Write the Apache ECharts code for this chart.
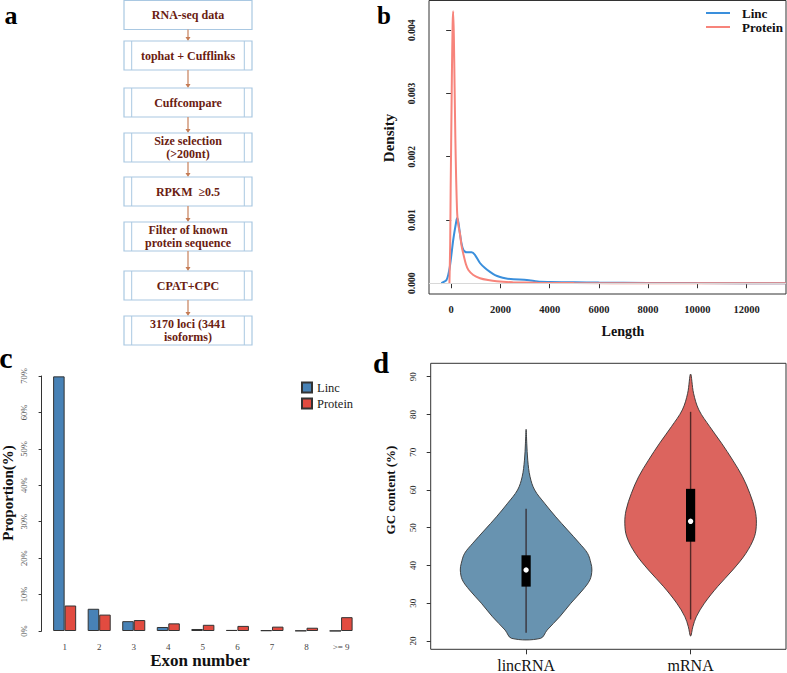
<!DOCTYPE html>
<html><head><meta charset="utf-8">
<script src="https://cdn.jsdelivr.net/npm/echarts@6/dist/echarts.min.js"></script>
<style>html,body{margin:0;padding:0;background:#fff}#chart{width:787px;height:673px}</style>
</head><body><div id="chart"></div>
<script>
// ---------------- data ----------------
// panel a: pipeline steps
const flowSteps = ['RNA-seq data', 'tophat + Cufflinks', 'Cuffcompare', 'Size selection\n(>200nt)',
  'RPKM  \u22650.5', 'Filter of known\nprotein sequence', 'CPAT+CPC', '3170 loci (3441\nisoforms)'];

// panel b: length density curves
const densityNames = ['Linc', 'Protein'];
const lincLength = [-400, -190, -54, 82, 218, 245, 300, 355, 420, 490, 560, 626, 830, 966, 1170, 1374, 1578, 1782, 1986, 2190, 2530, 3074, 3618, 4000, 5000, 6000, 8000, 10000, 13600];
const lincDensity = [0, 0.00005, 0.00026, 0.00068, 0.001, 0.00103, 0.00095, 0.00079, 0.00063, 0.00053, 0.0005, 0.00049, 0.00049, 0.00045, 0.00032, 0.00024, 0.00018, 0.00013, 0.0001, 0.00008, 0.000063, 0.000053, 0.000022, 0.00002, 0.000015, 0.00001, 0.000004, 0.000002, 0];
const proteinLength = [-70, -40, -20, 0, 30, 60, 82, 110, 140, 170, 200, 245, 300, 355, 420, 490, 600, 700, 900, 1170, 1500, 1850, 2500, 3500, 5000, 8000, 13600];
const proteinDensity = [0, 0.0006, 0.0015, 0.0022, 0.0033, 0.0041, 0.0043, 0.0039, 0.0031, 0.0023, 0.0017, 0.0011, 0.0009, 0.00079, 0.0006, 0.00047, 0.0003, 0.00021, 0.00013, 0.00008, 0.00005, 0.00003, 0.000015, 0.000007, 0.000003, 0.000001, 0];
const lengthTicks = [0, 2000, 4000, 6000, 8000, 10000, 12000];
const densityTicks = [0, 0.001, 0.002, 0.003, 0.004];

// panel c: exon number proportions (%)
const exonCategories = ['1', '2', '3', '4', '5', '6', '7', '8', '>= 9'];
const exonLinc = [69.9, 6.1, 2.7, 1.1, 0.55, 0.3, 0.2, 0.1, 0.05];
const exonProtein = [7.0, 4.5, 3.0, 2.1, 1.7, 1.4, 1.2, 0.9, 3.8];
const exonLegend = ['Linc', 'Protein'];
const proportionTicks = [0, 10, 20, 30, 40, 50, 60, 70];

// panel d: GC content violins
const violinCategories = ['lincRNA', 'mRNA'];
const lincGC = [20.7, 22.9, 26.4, 30.0, 33.5, 36.2, 38.8, 40.6, 43.2, 45.9, 49.4, 52.9, 56.5, 60.0, 63.5, 67.9, 72.4, 76.06];
const lincGCDensity = [0.22, 0.32, 0.51, 0.68, 0.86, 0.97, 1.0, 0.985, 0.935, 0.81, 0.63, 0.45, 0.28, 0.13, 0.06, 0.025, 0.01, 0];
const mrnaGC = [21.3, 23.8, 26.4, 30.0, 34.4, 38.8, 43.2, 47.6, 51.2, 54.7, 59.1, 63.5, 67.9, 72.4, 76.8, 81.2, 85.6, 90.7];
const mrnaGCDensity = [0, 0.035, 0.086, 0.21, 0.41, 0.64, 0.84, 0.97, 1.0, 0.98, 0.9, 0.79, 0.64, 0.47, 0.29, 0.126, 0.045, 0];
const lincBoxStats = [22.2, 34.4, 38.8, 42.7, 55.0];   // whisker low, q1, median, q3, whisker high
const mrnaBoxStats = [25.7, 46.3, 51.7, 60.3, 80.7];
const gcTicks = [20, 30, 40, 50, 60, 70, 80, 90];

// ---------------- layout / style ----------------
const SERIF = '"Liberation Serif","Times New Roman",serif';
const BLUE_LINE = '#3a8fdc', RED_LINE = '#f7847b';
const chart = echarts.init(document.getElementById('chart'), null, { renderer: 'svg' });

const graphics = [];
// flowchart (panel a)
const flowLeft = 124, flowWidth = 128, flowH = 29, flowInset = 7.7;
const flowTops = [0.5, 41, 88, 133, 177, 222, 271, 316];
const flowCx = flowLeft + flowWidth / 2;
flowSteps.forEach((label, i) => {
  const top = flowTops[i];
  graphics.push({ type: 'rect', shape: { x: flowLeft, y: top, width: flowWidth, height: flowH },
    style: { fill: '#fff', stroke: '#a9c8e2', lineWidth: 1.2 } });
  if (i > 0) {
    [flowLeft + flowInset, flowLeft + flowWidth - flowInset].forEach(x => {
      graphics.push({ type: 'line', shape: { x1: x, y1: top, x2: x, y2: top + flowH },
        style: { stroke: '#a9c8e2', lineWidth: 1 } });
    });
  }
  graphics.push({ type: 'text', x: flowCx, y: top + flowH / 2,
    style: { text: label, align: 'center', verticalAlign: 'middle', fill: '#6a2010',
      font: 'bold 12px ' + SERIF, lineHeight: 12.5 } });
  if (i < flowSteps.length - 1) {
    const y1 = top + flowH, y2 = flowTops[i + 1];
    graphics.push({ type: 'line', shape: { x1: flowCx, y1: y1, x2: flowCx, y2: y2 - 3 },
      style: { stroke: '#cf9272', lineWidth: 1.4 } });
    graphics.push({ type: 'polygon', shape: { points: [[flowCx - 2.5, y2 - 4], [flowCx + 2.5, y2 - 4], [flowCx, y2]] },
      style: { fill: '#c57c55' } });
  }
});

function addText(text, x, y, font, rot, fill, align) {
  graphics.push({ type: 'text', x: x, y: y, rotation: rot || 0,
    style: { text: text, align: align || 'center', verticalAlign: 'middle', font: font, fill: fill || '#000' } });
}
// panel letters
addText('a', 11, 15, 'bold 26px ' + SERIF);
addText('b', 384, 15, 'bold 25px ' + SERIF);
addText('c', 6, 357, 'bold 30px ' + SERIF);
addText('d', 381, 363, 'bold 29px ' + SERIF);
// axis titles
addText('Density', 389, 138, 'bold 15px ' + SERIF, Math.PI / 2, '#111');
addText('Length', 623, 331, 'bold 14px ' + SERIF, 0, '#111');
addText('Proportion(%)', 8, 493, 'bold 15px ' + SERIF, Math.PI / 2, '#111');
addText('Exon number', 200, 660, 'bold 17px ' + SERIF, 0, '#111');
addText('GC content (%)', 390, 490, 'bold 13px ' + SERIF, Math.PI / 2, '#111');
// panel b legend (line keys)
[BLUE_LINE, RED_LINE].forEach((col, i) => {
  const y = 13 + i * 14;
  graphics.push({ type: 'line', shape: { x1: 706, y1: y, x2: 730, y2: y }, style: { stroke: col, lineWidth: 2 } });
  addText(densityNames[i], 742, y, 'bold 13px ' + SERIF, 0, '#111', 'left');
});

function renderViolin(params, api) {
  const i = params.dataIndex;
  const gc = i === 0 ? lincGC : mrnaGC;
  const dens = i === 0 ? lincGCDensity : mrnaGCDensity;
  const box = i === 0 ? lincBoxStats : mrnaBoxStats;
  const fill = i === 0 ? '#6893b0' : '#dc645e';
  const cx = i + 1, maxHalf = 0.4;
  const right = gc.map((g, k) => api.coord([cx + dens[k] * maxHalf, g]));
  const left = [];
  gc.forEach((g, k) => { if (dens[k] > 0) left.push(api.coord([cx - dens[k] * maxHalf, g])); });
  left.reverse();
  const pts = right.concat(left);
  const lo = api.coord([cx, box[0]]), q1 = api.coord([cx, box[1]]), med = api.coord([cx, box[2]]),
        q3 = api.coord([cx, box[3]]), hi = api.coord([cx, box[4]]);
  const bw = api.size([0.056, 0])[0];
  return { type: 'group', children: [
    { type: 'polygon', shape: { points: pts, smooth: 0.35 }, style: { fill: fill, stroke: '#333', lineWidth: 0.9 } },
    { type: 'line', shape: { x1: lo[0], y1: lo[1], x2: hi[0], y2: hi[1] }, style: { stroke: 'rgba(40,20,20,0.75)', lineWidth: 1.4 } },
    { type: 'rect', shape: { x: q3[0] - bw / 2, y: q3[1], width: bw, height: q1[1] - q3[1] }, style: { fill: '#000' } },
    { type: 'circle', shape: { cx: med[0], cy: med[1], r: 2.7 }, style: { fill: '#fff' } }
  ] };
}

// barplot positions (R barplot beside=TRUE: each group = 1 space + 2 bars)
const groupUnits = 3;
const exonPos = exonCategories.map((c, i) => groupUnits * i + 2);
const exonBarWidth = 11.52;

const axisTxt = { fontFamily: SERIF };
const option = {
  animation: false,
  backgroundColor: '#fff',
  graphic: graphics,
  grid: [
    { left: 429, top: 0.5, right: 1, bottom: 379, show: true, borderColor: '#333', borderWidth: 1, backgroundColor: 'transparent', outerBoundsMode: 'none' },
    { left: 41.6, top: 376, width: 311, height: 255, outerBoundsMode: 'none' },
    { left: 430.7, top: 363.3, right: 1, bottom: 23.7, show: true, borderColor: '#333', borderWidth: 1, backgroundColor: 'transparent', outerBoundsMode: 'none' }
  ],
  legend: [
    { data: ['exonLinc', 'exonProtein'], orient: 'vertical', left: 296, top: 376, icon: 'rect', itemWidth: 10, itemHeight: 10, itemGap: 3,
      formatter: n => exonLegend[n === 'exonLinc' ? 0 : 1],
      textStyle: Object.assign({ fontSize: 12.5, color: '#222' }, axisTxt) }
  ],
  xAxis: [
    { gridIndex: 0, type: 'value', min: -900, max: 13600, axisLine: { show: false }, splitLine: { show: false },
      axisTick: { show: true, length: 5, customValues: lengthTicks, lineStyle: { color: '#333' } },
      axisLabel: Object.assign({ customValues: lengthTicks, formatter: v => String(v), margin: 10, fontSize: 10.5, fontWeight: 'bold', color: '#222' }, axisTxt) },
    { gridIndex: 1, type: 'value', min: 0, max: groupUnits * exonCategories.length, axisLine: { show: false }, splitLine: { show: false },
      axisTick: { show: false },
      axisLabel: Object.assign({ customValues: exonPos, formatter: v => exonCategories[Math.round((v - 2) / groupUnits)], margin: 11, fontSize: 9, color: '#444' }, axisTxt) },
    { gridIndex: 2, type: 'value', min: 0.42, max: 2.58, axisLine: { show: false }, splitLine: { show: false },
      axisTick: { show: true, length: 5, customValues: [1, 2], lineStyle: { color: '#333' } },
      axisLabel: Object.assign({ customValues: [1, 2], formatter: v => violinCategories[Math.round(v) - 1], margin: 8, fontSize: 16, color: '#111' }, axisTxt) }
  ],
  yAxis: [
    { gridIndex: 0, type: 'value', min: -0.00017, max: 0.00447, axisLine: { show: false }, splitLine: { show: false },
      axisTick: { show: true, length: 5, customValues: densityTicks, lineStyle: { color: '#333' } },
      axisLabel: Object.assign({ customValues: densityTicks, rotate: 90, formatter: v => v.toFixed(3), margin: 12, fontSize: 9.5, fontWeight: 'bold', color: '#222' }, axisTxt) },
    { gridIndex: 1, type: 'value', min: 0, max: 70, splitLine: { show: false },
      axisLine: { show: true, lineStyle: { color: '#333' } },
      axisTick: { show: true, length: 3, customValues: proportionTicks, lineStyle: { color: '#333' } },
      axisLabel: Object.assign({ customValues: proportionTicks, rotate: 90, formatter: v => v + '%', margin: 13, fontSize: 8.5, color: '#555' }, axisTxt) },
    { gridIndex: 2, type: 'value', min: 17.8, max: 93.55, axisLine: { show: false }, splitLine: { show: false },
      axisTick: { show: true, length: 4, customValues: gcTicks, lineStyle: { color: '#333' } },
      axisLabel: Object.assign({ customValues: gcTicks, rotate: 90, margin: 13, fontSize: 9, color: '#222' }, axisTxt) }
  ],
  series: [
    { name: 'Linc', type: 'line', xAxisIndex: 0, yAxisIndex: 0, symbol: 'none', smooth: 0.2,
      data: lincLength.map((x, i) => [x, lincDensity[i]]), lineStyle: { width: 2, color: BLUE_LINE }, itemStyle: { color: BLUE_LINE },
      markLine: { silent: true, symbol: 'none', label: { show: false }, data: [{ yAxis: 0 }], lineStyle: { color: '#d8d8d8', type: 'solid', width: 1 } } },
    { name: 'Protein', type: 'line', xAxisIndex: 0, yAxisIndex: 0, symbol: 'none', smooth: 0.2,
      data: proteinLength.map((x, i) => [x, proteinDensity[i]]), lineStyle: { width: 2, color: RED_LINE }, itemStyle: { color: RED_LINE } },
    { name: 'exonLinc', type: 'bar', xAxisIndex: 1, yAxisIndex: 1, data: exonLinc.map((v, i) => [exonPos[i], v]),
      barWidth: exonBarWidth, barGap: '0%',
      itemStyle: { color: '#4882b6', borderColor: '#333', borderWidth: 1 } },
    { name: 'exonProtein', type: 'bar', xAxisIndex: 1, yAxisIndex: 1, data: exonProtein.map((v, i) => [exonPos[i], v]),
      barWidth: exonBarWidth, barGap: '0%',
      itemStyle: { color: '#e24b40', borderColor: '#333', borderWidth: 1 } },
    { name: 'GC', type: 'custom', xAxisIndex: 2, yAxisIndex: 2, renderItem: renderViolin,
      data: [[1, lincBoxStats[2]], [2, mrnaBoxStats[2]]] }
  ]
};
chart.setOption(option);
</script></body></html>
